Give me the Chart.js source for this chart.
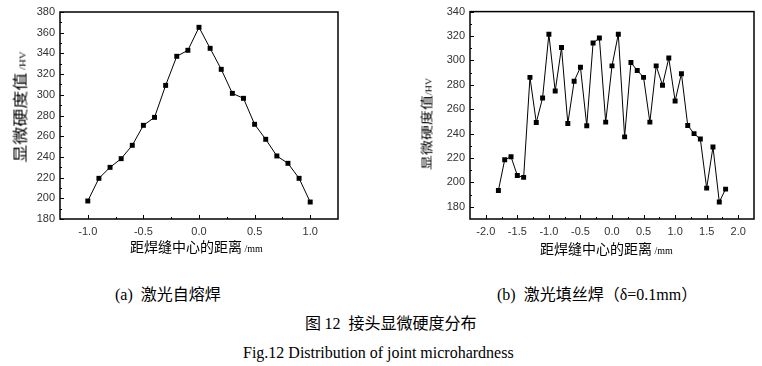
<!DOCTYPE html>
<html>
<head>
<meta charset="utf-8">
<script src="https://cdn.jsdelivr.net/npm/chart.js@4.4.1/dist/chart.umd.min.js"></script>
<style>
  body { margin: 0; background: #fff; }
  #page { position: relative; width: 762px; height: 366px; overflow: hidden; background: #fff; }
  canvas { position: absolute; top: 0; }
  .lbl { position: absolute; white-space: pre; color: #000; line-height: 18px; }
  .cjk { font-family: "Noto Sans CJK SC", sans-serif; }
  .ser { font-family: "Liberation Serif", serif; }
  .ytitle { position: absolute; white-space: pre; line-height: 16px; }
</style>
</head>
<body>
<div id="page">
  <canvas id="chartA" width="345" height="262" style="left:0px"></canvas>
  <canvas id="chartB" width="362" height="262" style="left:400px"></canvas>

  <div class="lbl" style="left:130px; top:237px;"><span class="cjk" style="font-size:14px">距焊缝中心的距离</span><span class="ser" style="font-size:10px"> /mm</span></div>
  <div class="lbl" style="left:540px; top:239px;"><span class="cjk" style="font-size:14px">距焊缝中心的距离</span><span class="ser" style="font-size:10px"> /mm</span></div>

  <div class="ytitle" style="left:21px; top:107px; transform: translate(-50%, -50%) rotate(-90deg) scaleX(1.2);"><span class="cjk" style="font-size:15px">显微硬度值</span><span class="ser" style="font-size:9px"> /HV</span></div>
  <div class="ytitle" style="left:428px; top:124px; transform: translate(-50%, -50%) rotate(-90deg) scaleX(1.25);"><span class="cjk" style="font-size:12px">显微硬度值</span><span class="ser" style="font-size:8px">/HV</span></div>

  <div class="lbl" style="left:115px; top:284px; font-size:16px"><span class="ser">(a)  </span><span class="cjk">激光自熔焊</span></div>
  <div class="lbl" style="left:497px; top:284px; font-size:16px"><span class="ser">(b)  </span><span class="cjk">激光填丝焊（</span><span class="ser">δ=0.1mm</span><span class="cjk">）</span></div>
  <div class="lbl" style="left:305px; top:313px; font-size:16px"><span class="cjk">图 </span><span class="ser">12  </span><span class="cjk">接头显微硬度分布</span></div>
  <div class="lbl ser" style="left:243px; top:344px; font-size:16px">Fig.12 Distribution of joint microhardness</div>
</div>

<script>
// (a) laser autogenous weld
const distA = [-1.0, -0.9, -0.8, -0.7, -0.6, -0.5, -0.4, -0.3, -0.2, -0.1, 0.0,
               0.1, 0.2, 0.3, 0.4, 0.5, 0.6, 0.7, 0.8, 0.9, 1.0];
const hardnessA = [197.4, 219.3, 229.9, 238.3, 251.2, 270.5, 278.2, 309.1, 337.2, 343.0, 365.2,
                   344.9, 324.6, 301.4, 296.6, 271.5, 257.0, 240.9, 233.8, 219.3, 196.4];
const xTicksA = [-1.0, -0.5, 0.0, 0.5, 1.0];
const yTicksA = [180, 200, 220, 240, 260, 280, 300, 320, 340, 360, 380];

// (b) laser wire filler weld
const distB = [-1.8, -1.7, -1.6, -1.5, -1.4, -1.3, -1.2, -1.1, -1.0, -0.9, -0.8, -0.7, -0.6,
               -0.5, -0.4, -0.3, -0.2, -0.1, 0.0, 0.1, 0.2, 0.3, 0.4, 0.5, 0.6, 0.7, 0.8,
               0.9, 1.0, 1.1, 1.2, 1.3, 1.4, 1.5, 1.6, 1.7, 1.8];
const hardnessB = [193.4, 218.6, 221.0, 205.7, 204.1, 286.1, 249.1, 269.2, 321.5, 274.9, 310.5, 248.3, 282.9,
                   294.4, 246.5, 314.3, 318.3, 249.4, 295.5, 321.5, 237.3, 298.2, 291.8, 286.1, 249.4, 295.5, 279.7,
                   301.9, 266.8, 289.1, 246.7, 240.0, 235.5, 195.3, 229.0, 184.0, 194.5];
const xTicksB = [-2.0, -1.5, -1.0, -0.5, 0.0, 0.5, 1.0, 1.5, 2.0];
const yTicksB = [180, 200, 220, 240, 260, 280, 300, 320, 340];

// frame round the plot plus inward major / minor ticks
const framePlugin = {
    id: 'frame',
    afterDraw(chart) {
        const ctx = chart.ctx;
        const a = chart.chartArea;
        ctx.save();
        ctx.strokeStyle = '#000';
        ctx.lineWidth = 1;

        const drawTicks = function(scale, horizontal) {
            const vals = scale.ticks.map(t => t.value);
            const step = vals[1] - vals[0];
            let minors = [];
            for (let i = 0; i < vals.length - 1; i++) {
                minors.push((vals[i] + vals[i + 1]) / 2);
            }
            if (vals[0] - step / 2 > scale.min) minors.push(vals[0] - step / 2);
            if (vals[vals.length - 1] + step / 2 < scale.max) minors.push(vals[vals.length - 1] + step / 2);

            const mark = function(v, len) {
                const p = Math.round(scale.getPixelForValue(v)) + 0.5;
                ctx.beginPath();
                if (horizontal) {
                    ctx.moveTo(p, a.bottom);
                    ctx.lineTo(p, a.bottom - len);
                } else {
                    ctx.moveTo(a.left, p);
                    ctx.lineTo(a.left + len, p);
                }
                ctx.stroke();
            };
            vals.forEach(v => mark(v, 4));
            minors.forEach(v => mark(v, 2));
        };
        drawTicks(chart.scales.x, true);
        drawTicks(chart.scales.y, false);

        ctx.lineWidth = 1.5;
        ctx.strokeRect(a.left, a.top, a.right - a.left, a.bottom - a.top);
        ctx.restore();
    }
};

function makeChart(canvasId, dist, hardness, xTicks, yTicks, xMin, xMax, yMin, yMax, yWidth, pad) {
    const points = dist.map((x, i) => ({x: x, y: hardness[i]}));
    return new Chart(document.getElementById(canvasId), {
        type: 'line',
        data: {
            datasets: [{
                data: points,
                borderColor: '#000',
                borderWidth: 1,
                backgroundColor: '#000',
                pointStyle: 'rect',
                pointRadius: 3.5,
                pointBorderWidth: 0,
                tension: 0
            }]
        },
        options: {
            responsive: false,
            animation: false,
            layout: { padding: pad },
            plugins: {
                legend: { display: false },
                tooltip: { enabled: false }
            },
            scales: {
                x: {
                    type: 'linear',
                    min: xMin,
                    max: xMax,
                    grid: { display: false, drawTicks: false },
                    border: { display: false },
                    afterBuildTicks: function(scale) { scale.ticks = xTicks.map(v => ({value: v})); },
                    afterFit: function(scale) { scale.height = 43; },
                    ticks: {
                        padding: 6,
                        color: '#333',
                        font: { family: 'Liberation Sans', size: 11 },
                        callback: v => v.toFixed(1)
                    }
                },
                y: {
                    min: yMin,
                    max: yMax,
                    grid: { display: false, drawTicks: false },
                    border: { display: false },
                    afterBuildTicks: function(scale) { scale.ticks = yTicks.map(v => ({value: v})); },
                    afterFit: function(scale) { scale.width = yWidth; },
                    ticks: {
                        padding: 5,
                        color: '#333',
                        font: { family: 'Liberation Sans', size: 11 }
                    }
                }
            }
        },
        plugins: [framePlugin]
    });
}

makeChart('chartA', distA, hardnessA, xTicksA, yTicksA, -1.25, 1.25, 180, 380, 60, {top: 12, right: 7, left: 0, bottom: 0});
makeChart('chartB', distB, hardnessB, xTicksB, yTicksB, -2.25, 2.25, 170, 340, 70, {top: 7, right: 8, left: 0, bottom: 0});
</script>
</body>
</html>
